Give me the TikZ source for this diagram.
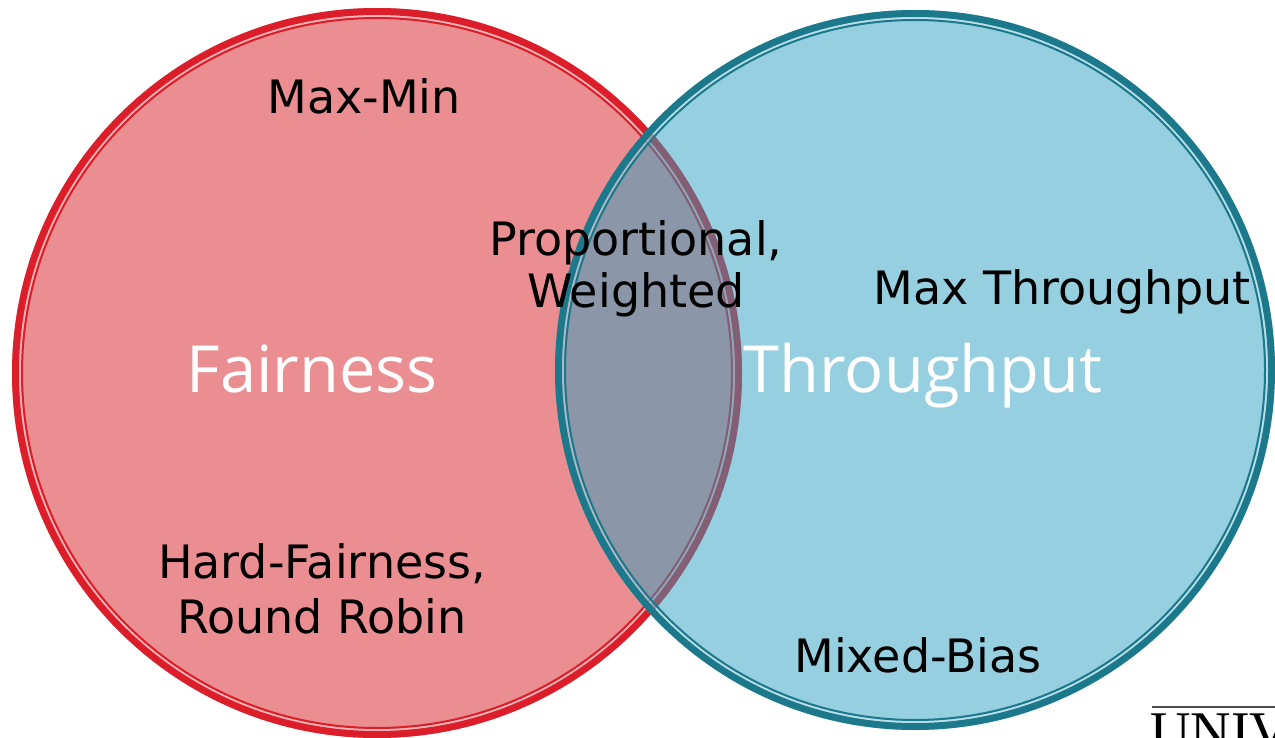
\documentclass[tikz,border=0pt]{standalone}
\usepackage{fontspec}
\setmainfont{DejaVu Sans}
\newfontfamily\setfont{Open Sans}
\newfontfamily\logofont{Liberation Serif}
\definecolor{fairfill}{RGB}{213,29,35}
\definecolor{fairedge}{RGB}{219,30,42}
\definecolor{thrfill}{RGB}{45,159,191}
\definecolor{thredge}{RGB}{27,121,139}
\tikzset{
  setfill/.style={fill=#1, fill opacity=0.5},
  rimouter/.style={draw=#1, line width=7pt},
  rimgap/.style={draw=white, draw opacity=0.35, line width=2pt},
  riminner/.style={draw=#1, line width=2pt},
  item/.style={text=black, font=\fontsize{46}{52}\selectfont, align=center, inner sep=0pt},
  setname/.style={text=white, font=\setfont\fontsize{65}{70}\selectfont, inner sep=0pt}
}
\begin{document}
\begin{tikzpicture}[x=1pt,y=-1pt]
\useasboundingbox (0,0) rectangle (1275,738);
\clip (0,0) rectangle (1275,738);
% Fairness set
\coordinate (fc) at (377,373);
\fill[setfill=fairfill] (fc) circle[radius=365pt];
\draw[rimouter=fairedge] (fc) circle[radius=361.5pt];
\draw[rimgap] (fc) circle[radius=357pt];
\draw[riminner=fairedge] (fc) circle[radius=355pt];
% Throughput set
\coordinate (tc) at (915,370);
\fill[setfill=thrfill] (tc) circle[radius=360pt];
\draw[rimouter=thredge] (tc) circle[radius=356.5pt];
\draw[rimgap] (tc) circle[radius=352pt];
\draw[riminner=thredge] (tc) circle[radius=350pt];
% set names
\node[setname, anchor=base] (fair) at (312,392) {Fairness};
\node[setname, anchor=base] (thr) at (923,392) {Throughput};
% scheduling policies (multi-line labels are placed by their last baseline)
\node[item, anchor=base] (maxmin) at (364,114) {Max-Min};
\node[item, anchor=base] (maxthr) at (1062,305) {Max Throughput};
\node[item, anchor=base] (prop) at (636,308) {Proportional,\\Weighted};
\node[item, anchor=base, font=\fontsize{46}{55}\selectfont] (hard) at (322,633) {Hard-Fairness,\\Round Robin};
\node[item, anchor=base] (mixed) at (918,672) {Mixed-Bias};
% corner logo, running off the page edge
\draw[black!70, line width=1.5pt] (1152,707) -- (1275,707);
\node[anchor=base west, inner sep=0pt, font=\logofont\fontsize{56}{56}\selectfont] (logo) at (1150,750) {UNIV};
\end{tikzpicture}
\end{document}
